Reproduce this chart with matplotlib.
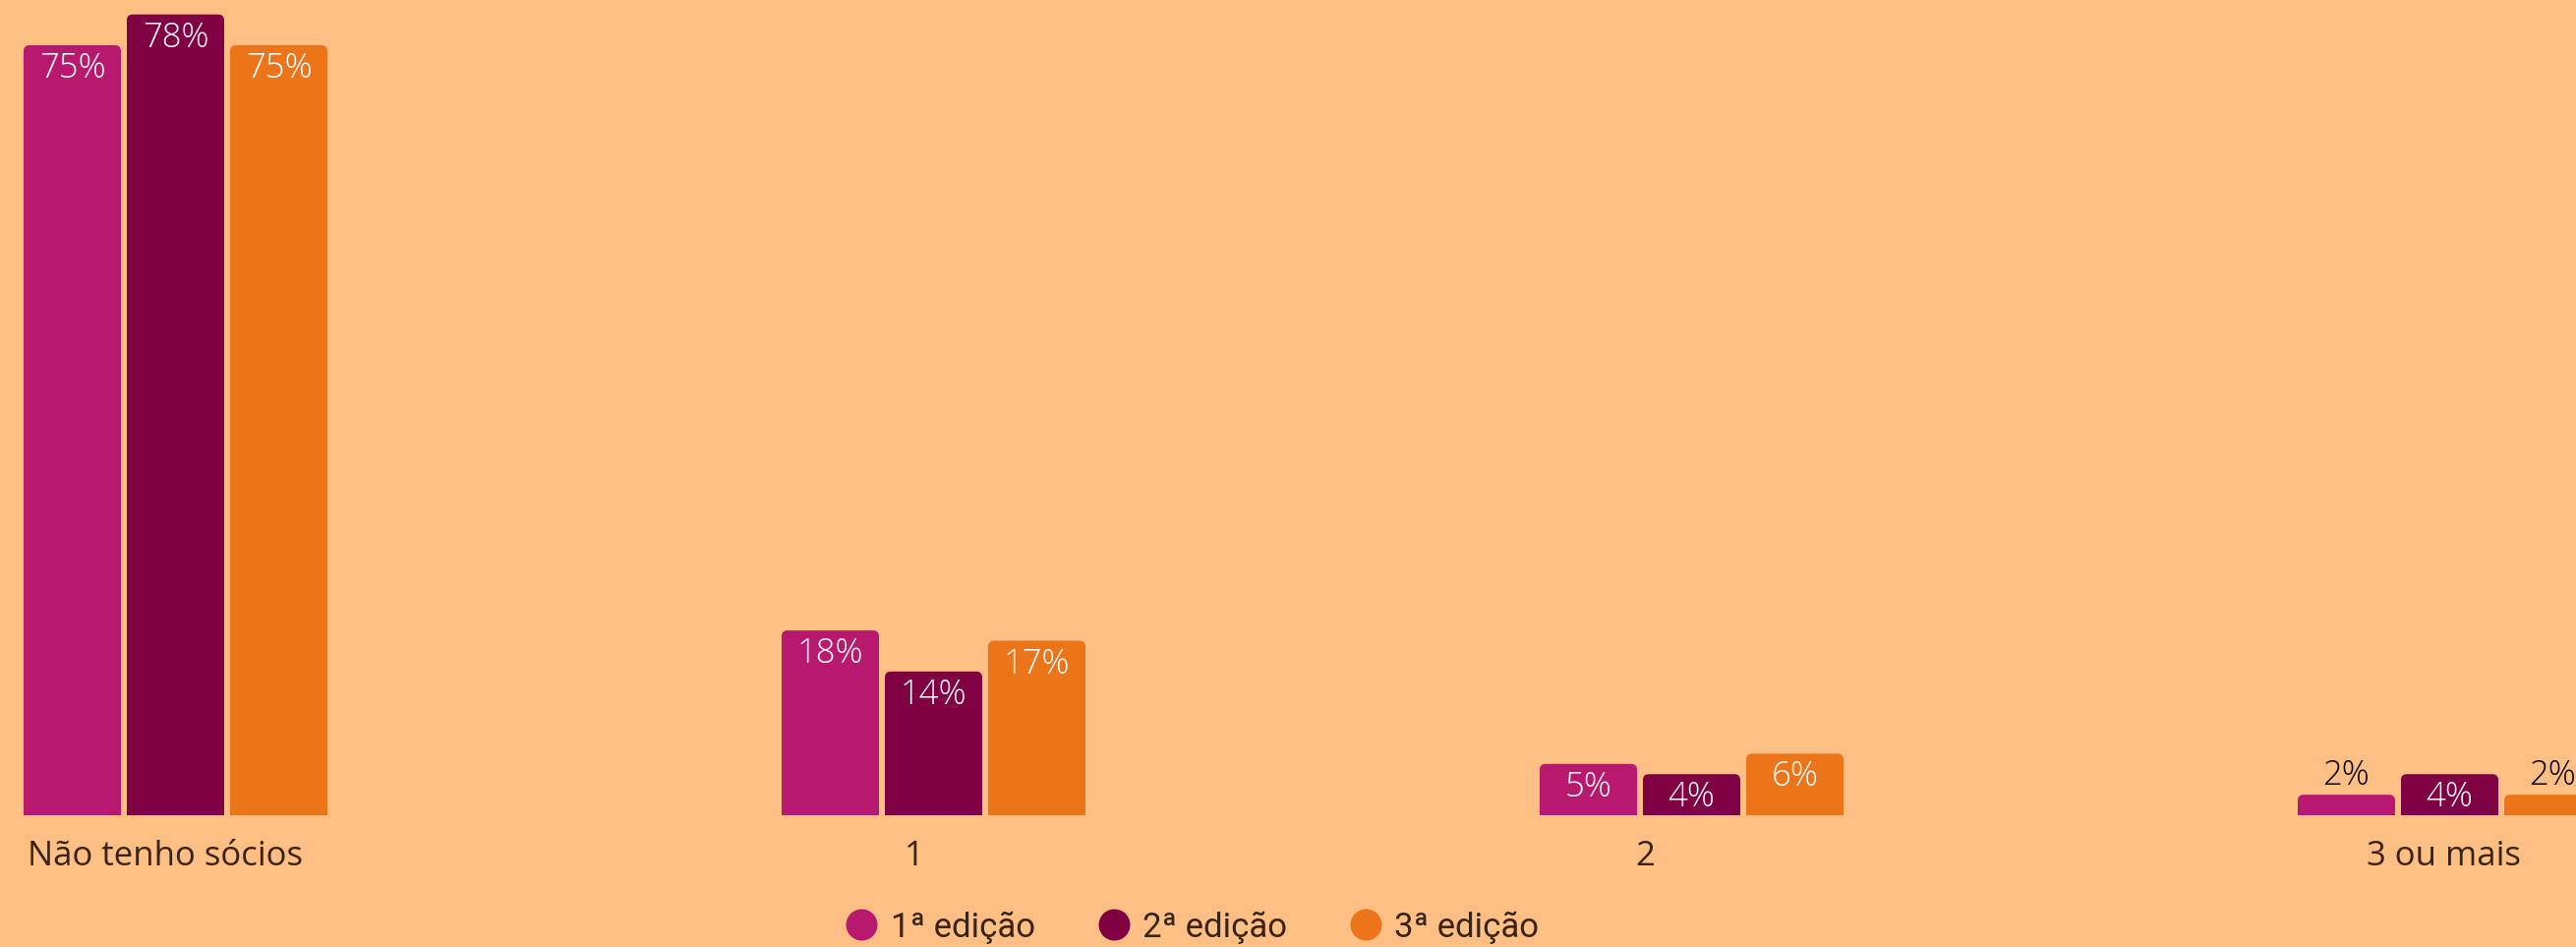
import matplotlib
matplotlib.use("Agg")
import matplotlib.pyplot as plt
from matplotlib.patches import FancyBboxPatch
from matplotlib.lines import Line2D
import numpy as np

# ---- data ----
categories = ["Não tenho sócios", "1", "2", "3 ou mais"]
series_names = ["1ª edição", "2ª edição", "3ª edição"]
edicao_1 = [75, 18, 5, 2]
edicao_2 = [78, 14, 4, 4]
edicao_3 = [75, 17, 6, 2]
series_values = [edicao_1, edicao_2, edicao_3]

# ---- style ----
BG = "#FEBF85"
COLORS = ["#B8196E", "#800044", "#EC7519"]
TEXT_DARK = "#3A2418"
FONT = ["Open Sans", "DejaVu Sans"]
LEGEND_FONT = ["Roboto", "DejaVu Sans"]

DPI = 100
W_PX, H_PX = 2620, 963
fig = plt.figure(figsize=(W_PX / DPI, H_PX / DPI), dpi=DPI, facecolor=BG)

# axes geometry in pixels
PX_PER_GROUP = 771.0
PX_PER_PCT = 10.44
FIRST_CENTER_PX = 178.5
BASE_PX = 829  # from the top

ax = fig.add_axes([0, (H_PX - BASE_PX) / H_PX, 1, BASE_PX / H_PX])
ax.set_facecolor(BG)
ax.set_xlim(-FIRST_CENTER_PX / PX_PER_GROUP, (W_PX - FIRST_CENTER_PX) / PX_PER_GROUP)
ax.set_ylim(0, BASE_PX / PX_PER_PCT)
ax.axis("off")

x = np.arange(len(categories))
bar_w = 99 / PX_PER_GROUP
step = 105 / PX_PER_GROUP

pt = 72.0 / DPI  # points per pixel
r_x = 6 / PX_PER_GROUP
aspect = PX_PER_GROUP / PX_PER_PCT

for i, (vals, color) in enumerate(zip(series_values, COLORS)):
    bars = ax.bar(x + (i - 1) * step, vals, width=bar_w, color=color)
    for rect, v in zip(bars, vals):
        rect.set_visible(False)
        bx, bw, bh = rect.get_x(), rect.get_width(), rect.get_height()
        ext = 6 / PX_PER_PCT
        patch = FancyBboxPatch((bx, -ext), bw, bh + ext,
                               boxstyle=f"round,pad=0,rounding_size={r_x}",
                               mutation_aspect=aspect,
                               facecolor=color, edgecolor="none")
        ax.add_patch(patch)
        cx = bx + bw / 2
        if v >= 3:
            ax.annotate(f"{v}%", (cx, bh), xytext=(0, -33 * pt),
                        textcoords="offset points", ha="center", va="baseline",
                        color="white", fontsize=25, fontweight="light",
                        family=FONT, annotation_clip=False)
        else:
            ax.annotate(f"{v}%", (cx, bh), xytext=(0, 10 * pt),
                        textcoords="offset points", ha="center", va="baseline",
                        color="black", fontsize=25, fontweight="light",
                        family=FONT, annotation_clip=False)

# category labels below the groups
label_nudge_px = [-11, -20, -47, -6]
for xi, cat, nudge in zip(x, categories, label_nudge_px):
    ax.annotate(cat, (xi, 0), xycoords=("data", "axes fraction"),
                xytext=(nudge * pt, -51 * pt), textcoords="offset points",
                ha="center", va="baseline", color=TEXT_DARK,
                fontsize=25, family=FONT, annotation_clip=False)

# legend
handles = [Line2D([], [], linestyle="none", marker="o", markersize=32 * pt,
                  markerfacecolor=c, markeredgecolor="none") for c in COLORS]
leg = fig.legend(handles, series_names, loc="center",
                 bbox_to_anchor=(1213 / W_PX, 1 - 943 / H_PX),
                 ncol=3, frameon=False, handlelength=0.9, handletextpad=0.4,
                 columnspacing=1.85, borderpad=0,
                 prop={"family": LEGEND_FONT, "size": 25})
for t in leg.get_texts():
    t.set_color(TEXT_DARK)

fig.savefig("out.png", dpi=DPI, facecolor=BG)
